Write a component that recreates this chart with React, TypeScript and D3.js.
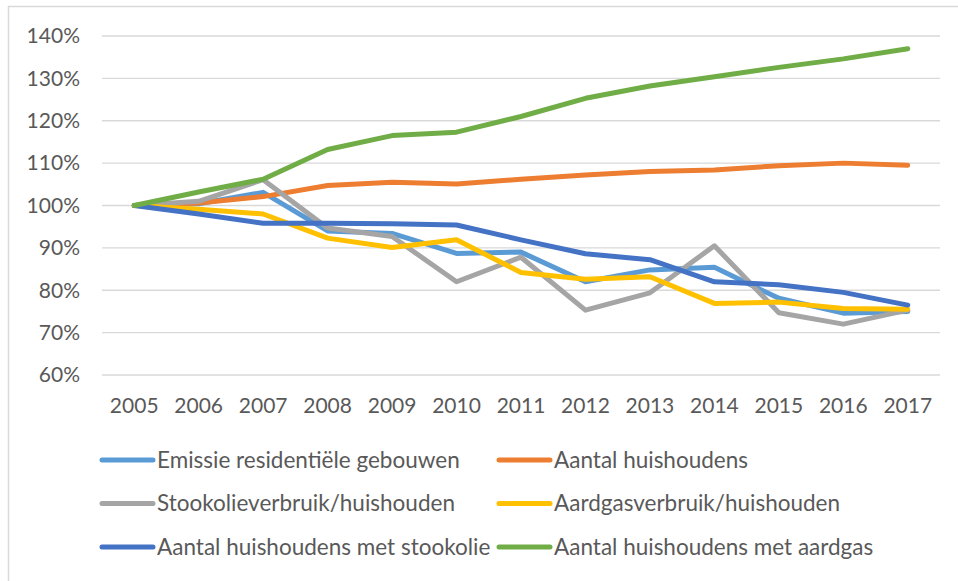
import React from "react";
import * as d3 from "d3";

const years = ["2005","2006","2007","2008","2009","2010","2011","2012","2013","2014","2015","2016","2017"];
const yTicks = [60, 70, 80, 90, 100, 110, 120, 130, 140];

const emissie = [100, 100.4, 103.1, 94.0, 93.4, 88.7, 89.0, 82.0, 84.8, 85.4, 78.1, 74.6, 75.0];
const huishoudens = [100, 100.6, 102.1, 104.7, 105.5, 105.1, 106.2, 107.2, 108.0, 108.4, 109.4, 110.0, 109.5];
const stookolieVerbruik = [100, 101.0, 106.1, 94.7, 92.7, 82.0, 87.8, 75.3, 79.4, 90.5, 74.7, 72.0, 75.3];
const aardgasVerbruik = [100, 99.1, 98.0, 92.3, 90.1, 91.9, 84.2, 82.6, 83.2, 76.9, 77.2, 75.7, 75.5];
const hhStookolie = [100, 98.0, 95.8, 95.8, 95.7, 95.4, 91.9, 88.6, 87.2, 82.0, 81.3, 79.5, 76.5];
const hhAardgas = [100, 103.2, 106.2, 113.2, 116.5, 117.3, 121.0, 125.3, 128.2, 130.4, 132.6, 134.6, 137.0];

const seriesNames = [
  "Emissie residentiële gebouwen",
  "Aantal huishoudens",
  "Stookolieverbruik/huishouden",
  "Aardgasverbruik/huishouden",
  "Aantal huishoudens met stookolie",
  "Aantal huishoudens met aardgas",
];
const seriesValues = [emissie, huishoudens, stookolieVerbruik, aardgasVerbruik, hhStookolie, hhAardgas];
const seriesColors = ["#5B9BD5", "#ED7D31", "#A5A5A5", "#FFC000", "#4472C4", "#70AD47"];

const W = 958;
const H = 581;
const FONT = "Lato, 'Open Sans', sans-serif";
const TEXT = "#595959";

export default function App() {
  const x = d3.scalePoint<string>().domain(years).range([102, 940]).padding(0.5);
  const y = d3.scaleLinear().domain([60, 140]).range([375, 36]);
  const line = d3
    .line<number>()
    .x((_, i) => x(years[i]) as number)
    .y((d) => y(d));

  const legendCols = [100, 497];
  const legendRows = [460, 503.5, 547];

  return (
    <svg width={W} height={H} style={{ position: "absolute", left: 0, top: 0, background: "#fff" }}>
      <rect x={0} y={0} width={W} height={H} fill="#fff" />
      <rect x={8.5} y={6.5} width={W + 10} height={H + 10} fill="none" stroke="#d9d9d9" strokeWidth={1.5} />
      {yTicks.map((t) => (
        <g key={t}>
          <line x1={102} x2={940} y1={y(t)} y2={y(t)} stroke="#d9d9d9" strokeWidth={1.4} />
          <text x={80} y={y(t)} dy="0.35em" textAnchor="end" fontFamily={FONT} fontSize={21} fill={TEXT}>
            {t}%
          </text>
        </g>
      ))}
      {years.map((yr) => (
        <text key={yr} x={x(yr)} y={413} textAnchor="middle" fontFamily={FONT} fontSize={21} fill={TEXT}>
          {yr}
        </text>
      ))}
      {seriesValues.map((vals, i) => (
        <path
          key={seriesNames[i]}
          d={line(vals) || ""}
          fill="none"
          stroke={seriesColors[i]}
          strokeWidth={5}
          strokeLinecap="round"
          strokeLinejoin="round"
        />
      ))}
      {seriesNames.map((name, i) => {
        const cx = legendCols[i % 2];
        const cy = legendRows[Math.floor(i / 2)];
        return (
          <g key={name}>
            <line x1={cx + 2} x2={cx + 53} y1={cy} y2={cy} stroke={seriesColors[i]} strokeWidth={5} strokeLinecap="round" />
            <text x={cx + 57} y={cy} dy="0.35em" fontFamily={FONT} fontSize={22.5} fill={TEXT}>
              {name}
            </text>
          </g>
        );
      })}
    </svg>
  );
}
